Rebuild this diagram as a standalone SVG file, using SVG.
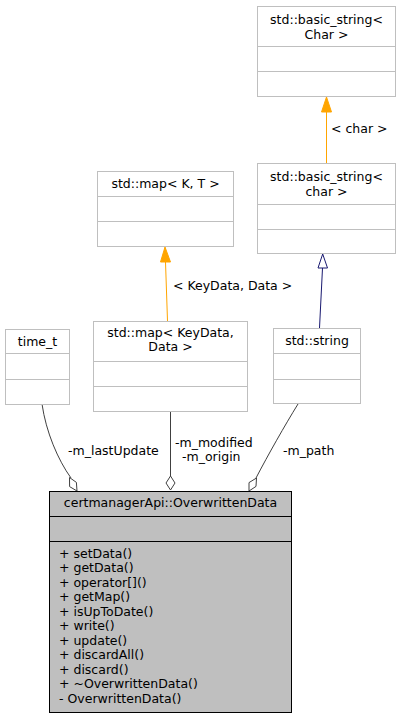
<svg xmlns="http://www.w3.org/2000/svg" width="401" height="720" viewBox="0 0 401 720">
<style>
text{font-family:"DejaVu Sans","Liberation Sans",sans-serif;font-size:12.5px;fill:#000}
.c{text-anchor:middle}
.box{fill:#fff;stroke:#bfbfbf;stroke-width:1}
.sep{stroke:#bfbfbf;stroke-width:1}
.main{fill:#bfbfbf;stroke:#000;stroke-width:1}
.msep{stroke:#000;stroke-width:1}
.e{fill:none;stroke:#404040;stroke-width:1}
.dia{fill:#fff;stroke:#404040;stroke-width:1}
.o{fill:none;stroke:#ffa500;stroke-width:1}
.oh{fill:#ffa500;stroke:#ffa500;stroke-width:1}
.b{fill:none;stroke:#191970;stroke-width:1}
.bh{fill:#fff;stroke:#191970;stroke-width:1}
</style>
<rect width="401" height="720" fill="#fff"/>
<g id="connectors">
  <path class="e" d="M42,404 C46,432 58,460 71,478"/>
  <polygon class="dia" points="77,491 76.4,482.4 69.5,477.5 69.6,486.6"/>
  <text x="68" y="455">-m_lastUpdate</text>
  <path class="e" d="M170.5,412 L170.5,476"/>
  <polygon class="dia" points="170.5,490 175,483 170.5,476 166,483"/>
  <text x="175" y="447">-m_modified</text>
  <text x="182" y="461">-m_origin</text>
  <path class="e" d="M298,404 C285,425 268,455 256,478"/>
  <polygon class="dia" points="249,491 256,486.4 256.5,478 249,482.6"/>
  <text x="283" y="455">-m_path</text>
  <path class="o" d="M167.5,321 L165.5,262"/>
  <polygon class="oh" points="165,247 160.5,262 170.5,262"/>
  <text x="173" y="290">&lt; KeyData, Data &gt;</text>
  <path class="o" d="M326.5,163 L326.5,112"/>
  <polygon class="oh" points="326.5,97 321.5,112 331.5,112"/>
  <text x="331" y="133">&lt; char &gt;</text>
  <path class="b" d="M319.5,328 L322.5,268"/>
  <polygon class="bh" points="322.7,254 318,268 327.5,268"/>
</g>
<g id="basic_string_Char">
  <rect class="box" x="257.5" y="6.5" width="138" height="90"/>
  <line class="sep" x1="257.5" y1="46.5" x2="395.5" y2="46.5"/>
  <line class="sep" x1="257.5" y1="71.5" x2="395.5" y2="71.5"/>
  <text class="c" x="326.5" y="24">std::basic_string&lt;</text>
  <text class="c" x="326.5" y="38.5">Char &gt;</text>
</g>
<g id="basic_string_char">
  <rect class="box" x="257.5" y="163.5" width="138" height="90"/>
  <line class="sep" x1="257.5" y1="204.5" x2="395.5" y2="204.5"/>
  <line class="sep" x1="257.5" y1="229.5" x2="395.5" y2="229.5"/>
  <text class="c" x="326.5" y="181">std::basic_string&lt;</text>
  <text class="c" x="326.5" y="195.5">char &gt;</text>
</g>
<g id="map_K_T">
  <rect class="box" x="97.5" y="171.5" width="136" height="75"/>
  <line class="sep" x1="97.5" y1="196.5" x2="233.5" y2="196.5"/>
  <line class="sep" x1="97.5" y1="221.5" x2="233.5" y2="221.5"/>
  <text class="c" x="165.5" y="188">std::map&lt; K, T &gt;</text>
</g>
<g id="map_KeyData_Data">
  <rect class="box" x="93.5" y="321.5" width="154" height="90"/>
  <line class="sep" x1="93.5" y1="361.5" x2="247.5" y2="361.5"/>
  <line class="sep" x1="93.5" y1="386.5" x2="247.5" y2="386.5"/>
  <text class="c" x="170.5" y="336.5">std::map&lt; KeyData,</text>
  <text class="c" x="170.5" y="351">Data &gt;</text>
</g>
<g id="time_t">
  <rect class="box" x="5.5" y="329.5" width="64" height="75"/>
  <line class="sep" x1="5.5" y1="353.5" x2="69.5" y2="353.5"/>
  <line class="sep" x1="5.5" y1="379.5" x2="69.5" y2="379.5"/>
  <text class="c" x="37.5" y="346">time_t</text>
</g>
<g id="std_string">
  <rect class="box" x="273.5" y="328.5" width="87" height="75"/>
  <line class="sep" x1="273.5" y1="353.5" x2="360.5" y2="353.5"/>
  <line class="sep" x1="273.5" y1="379.5" x2="360.5" y2="379.5"/>
  <text class="c" x="317" y="345">std::string</text>
</g>
<g id="OverwrittenData">
  <rect class="main" x="49.5" y="491.5" width="242" height="221"/>
  <line class="msep" x1="49.5" y1="516.5" x2="291.5" y2="516.5"/>
  <line class="msep" x1="49.5" y1="541.5" x2="291.5" y2="541.5"/>
  <text class="c" x="170.5" y="507">certmanagerApi::OverwrittenData</text>
  <text x="59" y="557.5">+ setData()</text>
  <text x="59" y="572">+ getData()</text>
  <text x="59" y="586.5">+ operator[]()</text>
  <text x="59" y="601">+ getMap()</text>
  <text x="59" y="615.5">+ isUpToDate()</text>
  <text x="59" y="630">+ write()</text>
  <text x="59" y="644.5">+ update()</text>
  <text x="59" y="659">+ discardAll()</text>
  <text x="59" y="673.5">+ discard()</text>
  <text x="59" y="688">+ ~OverwrittenData()</text>
  <text x="59" y="702.5">- OverwrittenData()</text>
</g>
</svg>
